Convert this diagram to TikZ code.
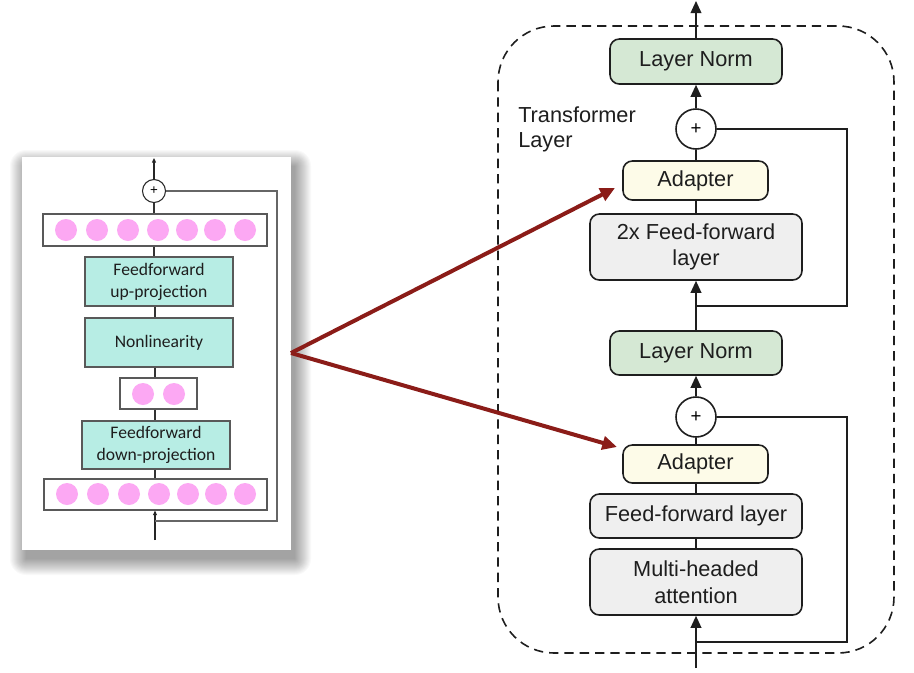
\documentclass[tikz,border=0pt]{standalone}
\usepackage{fontspec}
\setmainfont{Liberation Sans}
\newfontfamily\leftfont{Carlito}
\usetikzlibrary{arrows.meta}
\definecolor{lngreen}{HTML}{D5E8D4}
\definecolor{adyellow}{HTML}{FDFBE8}
\definecolor{boxgray}{HTML}{EFEFEF}
\definecolor{teal}{HTML}{B7EDE4}
\definecolor{pinkc}{HTML}{FCA8F3}
\definecolor{darkred}{HTML}{8B1C18}
\definecolor{txt}{HTML}{1E1E1E}
\begin{document}
\begin{tikzpicture}[x=0.75pt,y=-0.75pt,
  rbox/.style={draw=txt, line width=1.2pt, rounded corners=7pt, text=txt,
    font=\fontsize{16.3pt}{20pt}\selectfont, align=center, inner sep=0pt},
  rarr/.style={line width=1.2pt, draw=txt, -{Triangle[length=9pt,width=8pt]}},
  rline/.style={line width=1.2pt, draw=txt},
  plusr/.style={circle, draw=txt, line width=1.2pt, fill=white, minimum size=30pt,
    inner sep=0pt, font=\fontsize{14pt}{14pt}\selectfont},
  lbox/.style={draw=black!65, line width=0.8pt, text=txt, align=center, inner sep=0pt,
    font=\leftfont\fontsize{13.2pt}{16.5pt}\selectfont},
  lline/.style={line width=0.9pt, draw=black!80},
  larr/.style={line width=0.9pt, draw=black!85, -{Triangle[length=3.5pt,width=3pt]}},
  pk/.style={circle, fill=pinkc, minimum size=16.5pt, inner sep=0pt},
  redarr/.style={line width=3pt, draw=darkred, -{Triangle[length=11pt,width=10pt]}}
]
\useasboundingbox (0,0) rectangle (914,672);
\fill[white] (0,0) rectangle (914,672);

% ---------- left panel with shadow ----------
\foreach \i in {0,...,16}{
  \fill[black, opacity=0.022, rounded corners=\i*0.75pt]
    (22+4-\i,157+9-\i) rectangle (291+4+\i,550+9+\i);
}
\node[fill=white, minimum width=201.75pt, minimum height=294.75pt, inner sep=0pt] (panel) at (156.5,353.5) {};

\node[circle, draw=black!85, line width=0.8pt, fill=white, minimum size=17.25pt, inner sep=0pt,
  font=\fontsize{10pt}{10pt}\selectfont] (lplus) at (154,191) {+};
\coordinate (ltop) at (154,158);
\node[lbox, minimum width=168pt, minimum height=24pt] (topbar) at (155,230) {};
\foreach \x [count=\k] in {66,97,128,158,187,215,245}{
  \node[pk] (tc\k) at (\x,230) {};
}
\node[lbox, fill=teal, minimum width=111pt, minimum height=36.75pt] (ffup) at (159,281.5) {Feedforward\\up-projection};
\node[lbox, fill=teal, minimum width=111pt, minimum height=36.75pt] (nonl) at (159,342.5) {Nonlinearity};
\node[lbox, minimum width=57.75pt, minimum height=23.25pt] (smallbar) at (158.5,393.5) {};
\node[pk] (sc1) at (143,394) {};
\node[pk] (sc2) at (174,394) {};
\node[lbox, fill=teal, minimum width=111pt, minimum height=36pt] (ffdown) at (156,445) {Feedforward\\down-projection};
\node[lbox, minimum width=167.25pt, minimum height=23.25pt] (botbar) at (155.5,494.5) {};
\foreach \x [count=\k] in {67,98,129,159,188,216,245}{
  \node[pk] (bc\k) at (\x,494) {};
}
\coordinate (lin) at (155,540);
\coordinate (lres) at (155,521);
\coordinate (lresc) at (277,521);

\draw[larr] (lplus.north) -- (ltop);
\draw[lline] (topbar.north -| lplus) -- (lplus.south);
\draw[lline] (topbar.south -| lplus) -- (ffup.north -| lplus);
\draw[lline] (ffup.south -| 155,0) -- (nonl.north -| 155,0);
\draw[lline] (nonl.south -| 155,0) -- (smallbar.north -| 155,0);
\draw[lline] (smallbar.south -| 155,0) -- (ffdown.north -| 155,0);
\draw[lline] (ffdown.south -| 155,0) -- (botbar.north -| 155,0);
\draw[larr] (lin) -- (botbar.south -| lin);
\draw[line width=0.9pt, draw=black!60] (lres) -- (lresc) |- (lplus.east);

% ---------- right panel ----------
\draw[line width=1.2pt, draw=txt, dash pattern=on 7pt off 4.5pt, rounded corners=42pt]
  (498,26) rectangle (894,653);
\node[anchor=west, align=left, text=txt, font=\fontsize{16.3pt}{18.8pt}\selectfont, inner sep=0pt] (tl) at (518,129) {Transformer\\Layer};

\node[rbox, fill=lngreen, minimum width=129pt, minimum height=33.75pt] (ln1) at (696,61.5) {Layer Norm};
\node[plusr] (p1) at (696,129) {+};
\node[rbox, fill=adyellow, minimum width=108.75pt, minimum height=29.25pt] (ad1) at (695.5,180.5) {Adapter};
\node[rbox, fill=boxgray, minimum width=159pt, minimum height=49.5pt] (ff2) at (696,247) {2x Feed-forward\\layer};
\node[rbox, fill=lngreen, minimum width=129pt, minimum height=33pt] (ln2) at (696,353) {Layer Norm};
\node[plusr] (p2) at (696,417) {+};
\node[rbox, fill=adyellow, minimum width=108.75pt, minimum height=28.5pt] (ad2) at (695.5,464) {Adapter};
\node[rbox, fill=boxgray, minimum width=159pt, minimum height=33pt] (ff1) at (696,516) {Feed-forward layer};
\node[rbox, fill=boxgray, minimum width=159pt, minimum height=49.5pt] (mha) at (696,582) {Multi-headed\\attention};

\coordinate (rtop) at (696,1);
\coordinate (rin) at (696,668);
\coordinate (r1) at (696,306);
\coordinate (r1c) at (847,306);
\coordinate (r2) at (696,642);
\coordinate (r2c) at (847,642);

\draw[rarr] (ln1.north) -- (rtop);
\draw[rarr] (p1.north) -- (ln1.south);
\draw[rline] (ad1.north -| p1) -- (p1.south);
\draw[rline] (ff2.north -| p1) -- (ad1.south -| p1);
\draw[rarr] (ln2.north) -- (ff2.south);
\draw[rline] (r1) -- (r1c) |- (p1.east);
\draw[rarr] (p2.north) -- (ln2.south);
\draw[rline] (ad2.north -| p2) -- (p2.south);
\draw[rline] (ff1.north -| p2) -- (ad2.south -| p2);
\draw[rline] (mha.north) -- (ff1.south);
\draw[rarr] (rin) -- (mha.south);
\draw[rline] (r2) -- (r2c) |- (p2.east);

% ---------- red arrows ----------
\coordinate (src) at (291,353);
\coordinate (dst1) at (615,188);
\coordinate (dst2) at (617,447);
\draw[redarr] (src) -- (dst1);
\draw[redarr] (src) -- (dst2);
\end{tikzpicture}
\end{document}
